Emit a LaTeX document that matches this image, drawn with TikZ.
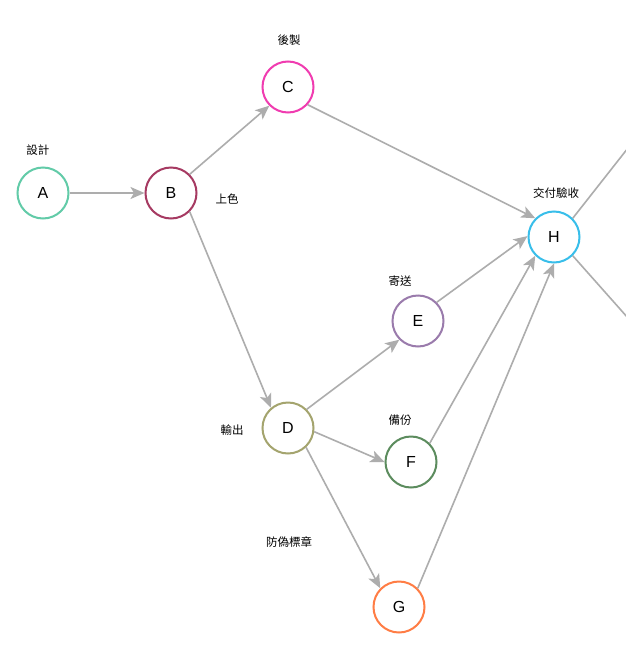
\documentclass[tikz,border=0pt]{standalone}
\usepackage{fontspec}
\setmainfont{Liberation Sans}
\newfontfamily\cjk{Noto Sans CJK TC}
\usetikzlibrary{arrows.meta,shapes}
\definecolor{cA}{HTML}{62CBA8}
\definecolor{cB}{HTML}{A63A62}
\definecolor{cC}{HTML}{F03CB0}
\definecolor{cD}{HTML}{A4A46E}
\definecolor{cE}{HTML}{9A7BAC}
\definecolor{cF}{HTML}{5C8C5E}
\definecolor{cG}{HTML}{FF7D45}
\definecolor{cH}{HTML}{38BEEA}
\definecolor{edgegray}{HTML}{ADADAD}
\tikzstyle{task}=[circle,draw,line width=2pt,fill=white,minimum size=51pt,inner sep=0pt,font=\fontsize{16}{16}\selectfont]
\tikzstyle{tag}=[font=\cjk\fontsize{11.5}{11.5}\selectfont,inner sep=0pt]
\tikzstyle{flow}=[-{Stealth[length=14pt,width=12pt,inset=3.5pt]}, draw=edgegray, fill=edgegray, line width=1.6pt]

\begin{document}
\begin{tikzpicture}[x=1pt,y=-1pt]
\useasboundingbox[fill=white] (0,0) rectangle (626,659);
\coordinate (P) at (628,148);
\coordinate (Q) at (628,318);
\node[task,draw=cA] (A) at (43,193) {A};
\node[task,draw=cB] (B) at (171,193) {B};
\node[task,draw=cC] (C) at (288,87) {C};
\node[task,draw=cD] (D) at (288,428) {D};
\node[task,draw=cE] (E) at (418,321) {E};
\node[task,draw=cF] (F) at (411,462) {F};
\node[task,draw=cG] (G) at (399,607) {G};
\node[task,draw=cH] (H) at (554,237) {H};
\node[tag] (tA) at (38,150) {設計};
\node[tag] (tB) at (227,199) {上色};
\node[tag] (tC) at (289,40) {後製};
\node[tag] (tD) at (232,430) {輸出};
\node[tag] (tE) at (400,281) {寄送};
\node[tag] (tF) at (400,420) {備份};
\node[tag] (tG) at (289,542) {防偽標章};
\node[tag] (tH) at (556,193) {交付驗收};
\draw[flow](A)--(B);\draw[flow](B.45)--(C.225);\draw[flow](B.-45)--(D.130);
\draw[flow](C.-42)--(H.135);\draw[flow](D.45)--(E.225);\draw[flow](D.-8)--(F.180);\draw[flow](D.-47)--(G.135);
\draw[flow](E.45)--(H.178);\draw[flow](F.45)--(H.225);\draw[flow](G.45)--(H.270);
\draw[draw=edgegray,line width=1.6pt](H.45)--(P);\draw[draw=edgegray,line width=1.6pt](H.-45)--(Q);
\end{tikzpicture}
\end{document}
